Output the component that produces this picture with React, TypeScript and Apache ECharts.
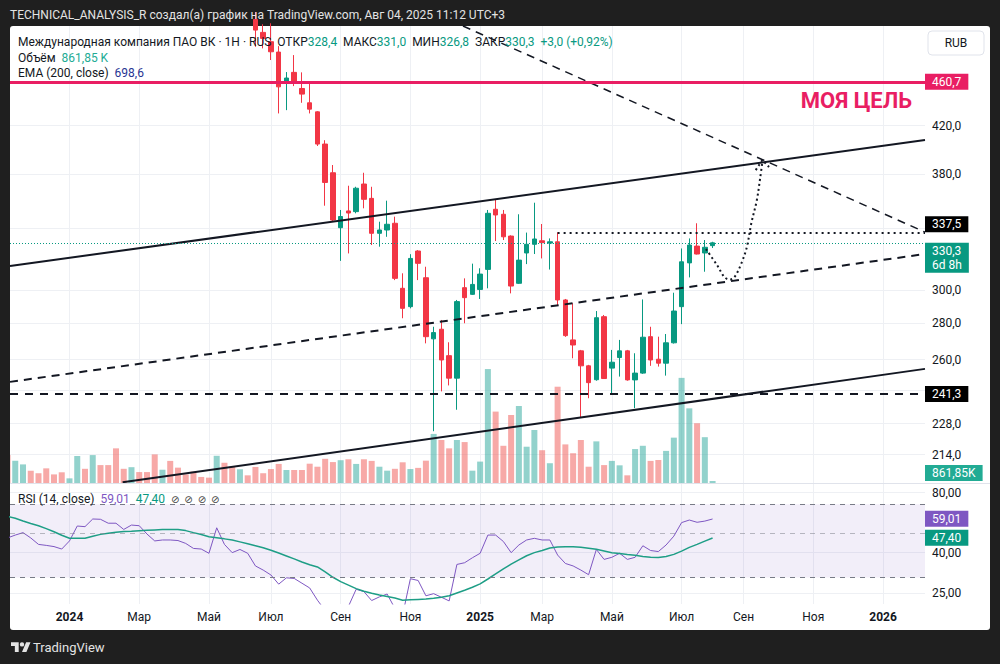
import React, { useEffect, useRef } from 'react';
import * as echarts from 'echarts';

// ---------- data ----------
const FIRST_WEEK = '2023-11-06';
const CANDLE_FIRST_WEEK = '2024-06-17';
const X_RANGE = ['2023-11-08 06:00', '2026-02-11 22:00'];
const X_TICKS = ['2024-01-01', '2024-03-04', '2024-05-06', '2024-07-01', '2024-09-02', '2024-11-04', '2025-01-06', '2025-03-03', '2025-05-05', '2025-07-07', '2025-09-01', '2025-11-03', '2026-01-05'];
const MONTHS = ['Янв', 'Фев', 'Мар', 'Апр', 'Май', 'Июн', 'Июл', 'Авг', 'Сен', 'Окт', 'Ноя', 'Дек'];
const PRICE_GRID = [214, 228, 244, 260, 280, 300, 340, 380, 420, 460];
const PRICE_TICKS = [214, 228, 260, 280, 300, 380, 420];
const PRICE_RANGE = [201.9, 515.1];
const RSI_TICKS = [80, 40, 25];
const RSI_RANGE = [22.1, 88.4];

// weekly candles [open, close, low, high]
const CANDLES = [
  [522.0, 510.8, 493.6, 530.0], [508.4, 502.2, 492.0, 517.0], [498.8, 488.6, 480.4, 518.0], [488.3, 454.7, 430.6, 494.3],
  [458.2, 463.0, 433.5, 468.7], [468.4, 457.9, 455.4, 485.3], [453.2, 448.0, 440.1, 468.4], [440.1, 434.4, 430.6, 458.8],
  [432.0, 404.4, 402.8, 432.6], [404.4, 373.8, 356.4, 407.6], [381.3, 346.1, 344.9, 387.4], [340.7, 348.6, 318.3, 353.3],
  [352.6, 351.1, 323.2, 371.3], [352.1, 369.4, 350.9, 370.5], [372.6, 361.1, 354.5, 381.3], [361.8, 336.8, 328.8, 370.5],
  [336.8, 339.1, 327.7, 344.9], [339.1, 343.1, 334.4, 360.1], [343.8, 307.1, 306.0, 348.5], [300.9, 288.8, 283.0, 310.3],
  [289.8, 319.9, 288.8, 322.7], [324.8, 316.7, 306.0, 325.4], [307.5, 272.5, 268.8, 314.5], [271.3, 274.8, 224.5, 278.1],
  [276.7, 259.8, 243.6, 282.0], [262.1, 250.3, 246.6, 269.4], [250.3, 292.8, 234.6, 293.8], [301.3, 295.2, 280.1, 307.1],
  [297.2, 303.3, 296.8, 316.5], [300.2, 309.8, 294.4, 313.5], [312.8, 350.9, 300.9, 353.3], [353.8, 349.7, 331.5, 361.1],
  [350.2, 334.4, 332.2, 353.3], [334.9, 302.3, 297.8, 335.4], [304.0, 318.8, 303.6, 350.2], [323.5, 329.3, 316.2, 337.3],
  [329.3, 332.9, 322.8, 358.6], [331.7, 330.4, 319.9, 343.3], [330.1, 331.0, 312.7, 333.3], [331.0, 293.8, 290.8, 337.5],
  [293.8, 273.1, 272.4, 294.4], [270.7, 267.9, 260.7, 291.8], [264.7, 256.7, 231.0, 265.2], [256.7, 248.0, 240.2, 257.2],
  [249.5, 283.3, 249.0, 287.2], [283.9, 250.1, 249.9, 284.9], [255.5, 258.6, 241.9, 265.2], [261.1, 264.7, 251.1, 270.7],
  [264.7, 249.4, 249.0, 265.2], [249.4, 252.9, 235.4, 263.4], [252.9, 272.2, 252.5, 294.1], [272.5, 259.8, 256.7, 278.1],
  [260.2, 258.1, 256.3, 272.5], [258.1, 269.1, 251.6, 274.0], [269.1, 287.2, 268.7, 298.2], [289.8, 317.7, 279.6, 326.5],
  [317.0, 328.8, 307.7, 333.3], [328.1, 322.8, 322.5, 343.8], [323.5, 327.3, 311.3, 332.2], [328.4, 330.3, 326.8, 331.0],
];

// weekly volume, millions, from FIRST_WEEK
const VOLUME = [
  12.0, 9.6, 8.0, 5.3, 4.2, 6.3, 3.7, 4.6,
  2.0, 11.6, 6.1, 12.0, 7.7, 7.7, 14.9, 6.1,
  6.8, 4.7, 4.7, 12.3, 5.7, 9.5, 6.6, 3.7,
  4.9, 2.6, 2.3, 11.7, 8.7, 7.0, 5.9, 3.3,
  6.9, 4.2, 6.0, 8.2, 5.6, 5.6, 5.6, 8.3,
  7.0, 10.4, 9.0, 9.8, 10.2, 8.2, 10.2, 9.5,
  7.0, 5.3, 6.1, 8.9, 6.0, 6.5, 9.6, 21.1,
  18.5, 14.9, 18.5, 17.6, 5.3, 9.2, 49.0, 30.7,
  16.0, 29.2, 33.1, 15.6, 22.8, 14.1, 8.5, 41.4,
  16.6, 12.8, 18.5, 7.0, 17.9, 7.7, 9.5, 7.6,
  3.3, 14.6, 16.0, 9.5, 9.9, 13.8, 19.5, 45.2,
  32.1, 25.7, 19.7, 0.86185,
];
// 1 = up week, 0 = down week
const VOLUME_DIR = [
  0, 1, 1, 0, 0, 0, 0, 0,
  1, 1, 0, 1, 0, 0, 0, 0,
  1, 0, 0, 0, 1, 0, 0, 0,
  0, 0, 0, 1, 0, 0, 1, 0,
  0, 0, 0, 0, 1, 0, 0, 0,
  0, 0, 0, 1, 0, 1, 0, 0,
  1, 1, 0, 0, 1, 0, 0, 1,
  0, 0, 1, 0, 1, 1, 1, 0,
  0, 0, 1, 1, 1, 0, 1, 0,
  0, 0, 0, 0, 1, 0, 1, 1,
  0, 1, 1, 0, 0, 1, 1, 1,
  1, 0, 1, 1,
];

const RSI = [
  47.4, 49.0, 50.4, 47.4, 44.0, 43.5, 42.9, 41.7,
  45.8, 54.4, 54.0, 59.0, 58.8, 56.2, 56.2, 52.3,
  55.0, 54.6, 49.6, 45.8, 46.3, 46.3, 46.0, 44.5,
  42.0, 41.7, 39.7, 53.3, 44.0, 40.0, 41.5, 39.7,
  34.3, 32.7, 30.9, 27.8, 29.9, 29.7, 28.1, 26.6,
  23.1, 20.5, 19.0, 21.0, 21.5, 26.2, 25.5, 23.0,
  24.0, 24.8, 21.0, 19.5, 29.6, 29.0, 24.3, 24.9,
  23.9, 22.9, 34.9, 35.6, 37.7, 39.7, 49.0, 49.0,
  45.5, 40.0, 43.7, 46.3, 47.2, 46.3, 46.3, 38.9,
  35.3, 34.3, 32.7, 31.0, 41.5, 37.0, 37.9, 39.7,
  37.0, 37.9, 43.3, 41.0, 40.5, 43.7, 48.4, 56.6,
  58.3, 56.8, 57.6, 59.01,
];
const RSI_MA = [
  60.8, 59.5, 57.6, 56.0, 54.6, 52.8, 50.9, 48.9,
  47.2, 47.2, 47.2, 48.3, 49.4, 50.0, 50.6, 51.0,
  51.2, 51.5, 51.8, 52.0, 52.2, 52.3, 52.3, 51.6,
  50.4, 49.3, 48.1, 47.5, 46.9, 46.3, 45.3, 44.3,
  43.3, 42.3, 41.1, 39.8, 38.5, 37.2, 35.9, 34.8,
  33.9, 32.0, 30.1, 28.6, 27.5, 26.4, 25.6, 25.0,
  24.5, 24.1, 23.7, 23.1, 23.2, 23.3, 23.4, 23.6,
  23.9, 24.3, 25.1, 25.9, 26.8, 27.9, 29.5, 31.3,
  33.2, 35.0, 36.8, 38.6, 40.0, 41.0, 42.2, 42.7,
  42.8, 42.8, 42.6, 42.1, 41.6, 40.8, 40.0, 39.6,
  39.1, 38.8, 38.3, 37.9, 37.8, 38.3, 39.2, 40.7,
  42.5, 44.0, 45.7, 47.40,
];

// drawings
const TARGET = 460.7;
const SUPPORT = 241.3;
const LAST = 330.3;
const RESIST = 337.5;
const RESIST_FROM = '2025-03-17';
const UPPER_CHANNEL: [string, number][] = [['2023-11-08 06:00', 315.0], ['2026-02-11 22:00', 407.7]];
const MID_CHANNEL: [string, number][] = [['2023-11-08 06:00', 248.4], ['2026-02-11 22:00', 322.8]];
const LOWER_CHANNEL: [string, number][] = [['2024-02-18', 202.2], ['2026-02-11 22:00', 255.1]];
const DOWN_TREND: [string, number][] = [['2024-12-21 12:00', 515.1], ['2026-02-11 22:00', 337.6]];
const FORECAST_PATH: [string, number][] = [
  ['2025-07-29', 326.1], ['2025-08-08', 315.6], ['2025-08-15', 307.7], ['2025-08-20', 306.4], ['2025-08-24', 308.1],
  ['2025-08-30', 316.7], ['2025-09-04', 327.6], ['2025-09-08', 343.8], ['2025-09-13', 360.6], ['2025-09-16', 377.2], ['2025-09-18', 389.8],
];
const FORECAST_ARROW: [string, number][] = [['2025-09-12', 383.4], ['2025-09-18', 391.4], ['2025-09-24', 385.8]];

// ---------- helpers ----------
const UP = '#089981';
const DOWN = '#f23645';
const VOL_UP = 'rgba(38,166,154,0.5)';
const VOL_DOWN = 'rgba(239,83,80,0.5)';
const PINK = '#e91e63';
const INK = '#131722';
const PURPLE = '#7e57c2';
const CLEAR = 'rgba(0,0,0,0)';
const FONT = 'Roboto, "Noto Sans", "DejaVu Sans", sans-serif';

const L = Math.log;
const comma = (v: number, d: number) => v.toFixed(d).replace('.', ',');
const t = (s: string) => {
  const [d, hm] = s.split(' ');
  const [y, m, dd] = d.split('-').map(Number);
  const [h, mi] = hm ? hm.split(':').map(Number) : [0, 0];
  return new Date(y, m - 1, dd, h, mi).getTime();
};
const week = (first: string, i: number) => {
  const [y, m, d] = first.split('-').map(Number);
  return new Date(y, m - 1, d + 7 * i).getTime();
};

const boxLabel = (text: string, bg: string, extra: any = {}) => ({
  show: true,
  position: 'end',
  distance: 0,
  formatter: text,
  backgroundColor: bg,
  color: '#fff',
  fontSize: 12,
  fontFamily: FONT,
  padding: [2, 7, 2, 7],
  ...extra,
});
const seg = (pts: [string, number][], lineStyle: any) => [
  { coord: [t(pts[0][0]), L(pts[0][1])], lineStyle, label: { show: false } },
  { coord: [t(pts[1][0]), L(pts[1][1])] },
];

function buildOption() {
  const xMin = t(X_RANGE[0]);
  const xMax = t(X_RANGE[1]);
  const xTicks = X_TICKS.map(t);

  const candleData = CANDLES.map((c, i) => [week(CANDLE_FIRST_WEEK, i), L(c[0]), L(c[1]), L(c[2]), L(c[3])]);
  const volData = VOLUME.map((v, i) => ({
    value: [week(FIRST_WEEK, i), v],
    itemStyle: { color: VOLUME_DIR[i] ? VOL_UP : VOL_DOWN },
  }));
  const rsiData = RSI.map((v, i) => [week(FIRST_WEEK, i), L(v)]);
  const maData = RSI_MA.map((v, i) => [week(FIRST_WEEK, i), L(v)]);
  const pathData = FORECAST_PATH.map(p => [t(p[0]), L(p[1])]);
  const arrowData = FORECAST_ARROW.map(p => [t(p[0]), L(p[1])]);

  const xBase = (gridIndex: number, showLabels: boolean) => ({
    type: 'value',
    gridIndex,
    min: xMin,
    max: xMax,
    axisLine: { show: false },
    axisTick: { show: false, customValues: xTicks },
    splitLine: { show: true, lineStyle: { color: '#eef0f4', width: 1 } },
    axisLabel: {
      show: showLabels,
      customValues: xTicks,
      margin: 7,
      color: INK,
      fontSize: 12,
      fontFamily: FONT,
      formatter: (v: number) => {
        const d = new Date(v);
        return d.getMonth() === 0 ? `{b|${d.getFullYear()}}` : MONTHS[d.getMonth()];
      },
      rich: { b: { fontWeight: 'bold', fontSize: 12, color: INK, fontFamily: FONT } },
    },
  });

  const black = INK;

  return {
    animation: false,
    backgroundColor: '#1f1f1f',
    textStyle: { fontFamily: FONT },
    grid: [
      { left: 10, width: 915, top: 26, height: 457, outerBoundsMode: 'none' },
      { left: 10, width: 915, top: 484, height: 120, outerBoundsMode: 'none' },
    ],
    xAxis: [xBase(0, false), xBase(1, true)],
    yAxis: [
      {
        type: 'value',
        gridIndex: 0,
        position: 'right',
        min: L(PRICE_RANGE[0]),
        max: L(PRICE_RANGE[1]),
        axisLine: { show: false },
        axisTick: { show: false, customValues: PRICE_GRID.map(L) },
        splitLine: { show: true, lineStyle: { color: '#eef0f4' } },
        axisLabel: {
          customValues: PRICE_TICKS.map(L),
          formatter: (v: number) => comma(Math.exp(v), 1),
          margin: 7,
          color: INK,
          fontSize: 12,
          fontFamily: FONT,
        },
      },
      { type: 'value', gridIndex: 0, min: 0, max: 196.5, show: false, splitLine: { show: false } },
      {
        type: 'value',
        gridIndex: 1,
        position: 'right',
        min: L(RSI_RANGE[0]),
        max: L(RSI_RANGE[1]),
        axisLine: { show: false },
        axisTick: { show: false, customValues: RSI_TICKS.map(L) },
        splitLine: { show: true, lineStyle: { color: '#eef0f4' } },
        axisLabel: {
          customValues: RSI_TICKS.map(L),
          formatter: (v: number) => comma(Math.exp(v), 2),
          margin: 7,
          color: INK,
          fontSize: 12,
          fontFamily: FONT,
        },
      },
    ],
    series: [
      {
        type: 'bar',
        name: 'Объём',
        xAxisIndex: 0,
        yAxisIndex: 1,
        barWidth: 6,
        clip: true,
        data: volData,
        z: 1,
        markLine: {
          silent: true,
          symbol: ['none', 'none'],
          emphasis: { disabled: true },
          data: [
            { yAxis: VOLUME[VOLUME.length - 1], lineStyle: { color: CLEAR, width: 0 }, label: boxLabel('861,85K', '#22ab94', { verticalAlign: 'bottom' }) },
          ],
        },
      },
      {
        type: 'candlestick',
        name: 'VKCO',
        xAxisIndex: 0,
        yAxisIndex: 0,
        data: candleData,
        encode: { x: 0, y: [1, 2, 3, 4] },
        barWidth: 5,
        clip: true,
        z: 3,
        itemStyle: { color: UP, color0: DOWN, borderColor: UP, borderColor0: DOWN, borderWidth: 1 },
        markLine: {
          silent: true,
          symbol: ['none', 'none'],
          emphasis: { disabled: true },
          label: { show: false },
          data: [
            seg(UPPER_CHANNEL, { color: black, width: 2, type: 'solid' }),
            seg(MID_CHANNEL, { color: black, width: 2, type: [8, 6] }),
            seg(LOWER_CHANNEL, { color: black, width: 2, type: 'solid' }),
            seg(DOWN_TREND, { color: black, width: 1.5, type: [8, 6] }),
            { yAxis: L(SUPPORT), lineStyle: { color: black, width: 2, type: [8, 7] }, label: boxLabel('241,3', '#000') },
            { yAxis: L(LAST), lineStyle: { color: UP, width: 1, type: [1, 2] }, label: boxLabel('330,3\n6d 8h', UP, { verticalAlign: 'top', lineHeight: 14, padding: [1, 7, 1, 7] }) },
            [
              { coord: [t(RESIST_FROM), L(RESIST)], lineStyle: { color: black, width: 2, type: [2, 4] }, label: boxLabel('337,5', '#000', { verticalAlign: 'bottom' }) },
              { coord: [xMax, L(RESIST)] },
            ],
            { yAxis: L(TARGET), lineStyle: { color: PINK, width: 3, type: 'solid' }, label: boxLabel('460,7', PINK) },
          ],
        },
      },
      {
        type: 'line',
        name: 'Прогноз',
        xAxisIndex: 0,
        yAxisIndex: 0,
        data: pathData,
        symbol: 'none',
        smooth: 0.35,
        z: 6,
        lineStyle: { color: black, width: 2, type: [2, 3] },
      },
      {
        type: 'line',
        name: 'Стрелка',
        xAxisIndex: 0,
        yAxisIndex: 0,
        data: arrowData,
        symbol: 'none',
        z: 6,
        lineStyle: { color: black, width: 2, type: [2, 3] },
      },
      {
        type: 'line',
        name: 'RSI',
        xAxisIndex: 1,
        yAxisIndex: 2,
        data: rsiData,
        symbol: 'none',
        z: 4,
        lineStyle: { color: PURPLE, width: 1 },
        markArea: {
          silent: true,
          itemStyle: { color: 'rgba(126,87,194,0.1)' },
          data: [[{ yAxis: L(70) }, { yAxis: L(30) }]],
        },
        markLine: {
          silent: true,
          symbol: ['none', 'none'],
          emphasis: { disabled: true },
          label: { show: false },
          data: [
            { yAxis: L(70), lineStyle: { color: '#787b86', width: 1, type: [5, 5] } },
            { yAxis: L(50), lineStyle: { color: 'rgba(120,123,134,0.5)', width: 1, type: [5, 5] } },
            { yAxis: L(30), lineStyle: { color: '#787b86', width: 1, type: [5, 5] } },
            { yAxis: L(RSI[RSI.length - 1]), lineStyle: { color: CLEAR, width: 0 }, label: boxLabel('59,01', PURPLE) },
          ],
        },
      },
      {
        type: 'line',
        name: 'RSI MA',
        xAxisIndex: 1,
        yAxisIndex: 2,
        data: maData,
        symbol: 'none',
        z: 4,
        lineStyle: { color: '#1e9e86', width: 1.5 },
        markLine: {
          silent: true,
          symbol: ['none', 'none'],
          emphasis: { disabled: true },
          data: [{ yAxis: L(RSI_MA[RSI_MA.length - 1]), lineStyle: { color: CLEAR, width: 0 }, label: boxLabel('47,40', UP) }],
        },
      },
    ],
    graphic: [
      { type: 'rect', z: -10, silent: true, shape: { x: 10, y: 26, width: 980, height: 604, r: 3 }, style: { fill: '#ffffff' } },
      { type: 'rect', z: 50, silent: true, shape: { x: 0, y: 26, width: 10, height: 460 }, style: { fill: '#1f1f1f' } },
      { type: 'line', z: 10, silent: true, shape: { x1: 10, y1: 483.5, x2: 990, y2: 483.5 }, style: { stroke: '#e0e3eb', lineWidth: 1 } },
      {
        type: 'text', z: 20, x: 10, y: 14.5,
        style: { text: 'TECHNICAL_ANALYSIS_R создал(а) график на TradingView.com, Авг 04, 2025 11:12 UTC+3', fill: '#e3e3e3', font: `12px ${FONT}`, verticalAlign: 'middle' },
      },
      {
        type: 'text', z: 20, x: 18, y: 42,
        style: {
          text: '{d|Международная компания ПАО ВК · 1H · RUS}  {d|ОТКР}{g|328,4}  {d|МАКС}{g|331,0}  {d|МИН}{g|326,8}  {d|ЗАКР}{g|330,3}  {g|+3,0 (+0,92%)}',
          verticalAlign: 'middle',
          font: `12px ${FONT}`,
          rich: {
            d: { fill: INK, color: INK, fontSize: 12, fontFamily: FONT },
            g: { fill: UP, color: UP, fontSize: 12, fontFamily: FONT },
          },
        },
      },
      {
        type: 'text', z: 20, x: 18, y: 57.5,
        style: {
          text: '{d|Объём}  {g|861,85 K}', verticalAlign: 'middle', font: `12px ${FONT}`,
          rich: { d: { fill: INK, color: INK, fontSize: 12, fontFamily: FONT }, g: { fill: '#22ab94', color: '#22ab94', fontSize: 12, fontFamily: FONT } },
        },
      },
      {
        type: 'text', z: 20, x: 18, y: 72.5,
        style: {
          text: '{d|EMA (200, close)}  {b|698,6}', verticalAlign: 'middle', font: `12px ${FONT}`,
          rich: { d: { fill: INK, color: INK, fontSize: 12, fontFamily: FONT }, b: { fill: '#283593', color: '#283593', fontSize: 12, fontFamily: FONT } },
        },
      },
      {
        type: 'text', z: 20, x: 18, y: 499,
        style: {
          text: '{d|RSI (14, close)}  {p|59,01}  {g|47,40}  {s|⊘  ⊘  ⊘  ⊘}', verticalAlign: 'middle', font: `12px ${FONT}`,
          rich: {
            d: { fill: INK, color: INK, fontSize: 12, fontFamily: FONT },
            p: { fill: PURPLE, color: PURPLE, fontSize: 12, fontFamily: FONT },
            g: { fill: UP, color: UP, fontSize: 12, fontFamily: FONT },
            s: { fill: '#444', color: '#444', fontSize: 10, fontFamily: FONT },
          },
        },
      },
      {
        type: 'text', z: 20, x: 912, y: 100,
        style: { text: 'МОЯ ЦЕЛЬ', fill: PINK, font: `bold 22px ${FONT}`, align: 'right', verticalAlign: 'middle' },
      },
      { type: 'rect', z: 20, silent: true, shape: { x: 928, y: 31, width: 56, height: 24, r: 4 }, style: { fill: '#ffffff', stroke: '#e0e3eb', lineWidth: 1 } },
      { type: 'text', z: 21, x: 956, y: 43, style: { text: 'RUB', fill: INK, font: `12px ${FONT}`, align: 'center', verticalAlign: 'middle' } },
      { type: 'tvlogo', z: 20, x: 11, y: 640, scaleX: 0.55, scaleY: 0.55, style: { fill: '#e3e3e3' } },
      { type: 'text', z: 20, x: 33, y: 647, style: { text: 'TradingView', fill: '#e3e3e3', font: `13px ${FONT}`, verticalAlign: 'middle' } },
    ],
  };
}

let registered = false;

export default function App() {
  const ref = useRef<HTMLDivElement>(null);
  useEffect(() => {
    if (!ref.current) return;
    if (!registered) {
      echarts.graphic.registerShape(
        'tvlogo',
        echarts.graphic.extendPath('M14 22H7V11H0V4h14v18zM28 22h-8l7.5-18h8L28 22zM24 8a4 4 0 1 1-8 0a4 4 0 1 1 8 0z', {})
      );
      registered = true;
    }
    const chart = echarts.init(ref.current, null, { renderer: 'svg' });
    chart.setOption(buildOption() as any);
    return () => chart.dispose();
  }, []);
  return <div ref={ref} style={{ position: 'absolute', left: 0, top: 0, width: 1000, height: 664 }} />;
}
